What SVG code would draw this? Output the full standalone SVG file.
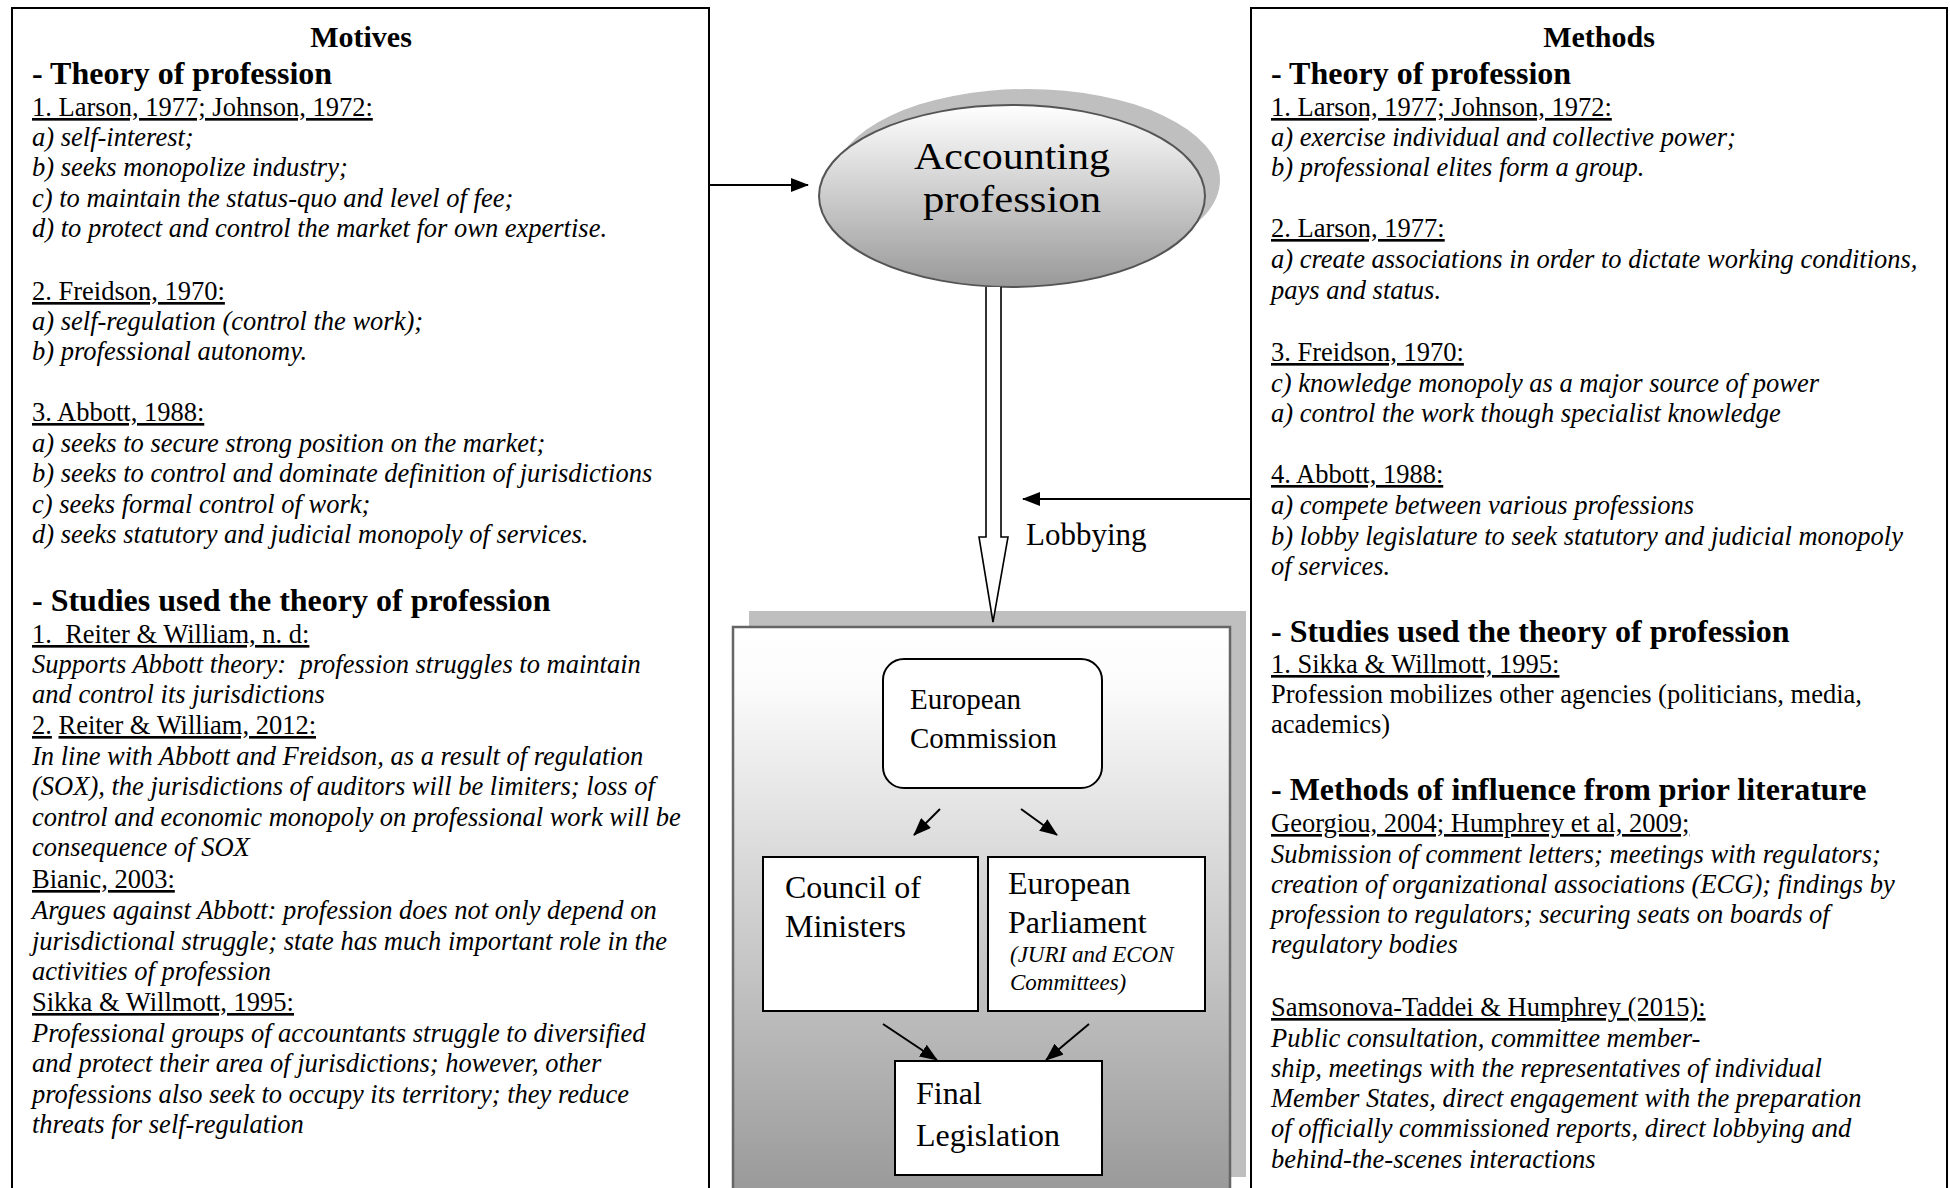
<svg xmlns="http://www.w3.org/2000/svg" width="1950" height="1188" viewBox="0 0 1950 1188">
<style>
text { font-family: "Liberation Serif", "Times New Roman", serif; font-size: 26.5px; fill: #000; white-space: pre; }
.i { font-style: italic; }
.u { text-decoration: underline; }
.h { font-weight: bold; font-size: 32px; }
.t { font-weight: bold; font-size: 30px; text-anchor: middle; }
.n { font-size: 32px; }
.box { fill: #fff; stroke: #000; stroke-width: 2; }
.ln { stroke: #000; stroke-width: 2; fill: none; }
</style>
<defs>
<marker id="ah" markerUnits="userSpaceOnUse" markerWidth="18" markerHeight="14" refX="17" refY="7" orient="auto">
<path d="M0,0 L18,7 L0,14 z" fill="#000"/>
</marker>
<linearGradient id="eg" x1="0" y1="0" x2="0" y2="1">
<stop offset="0" stop-color="#ffffff"/>
<stop offset="1" stop-color="#999999"/>
</linearGradient>
<linearGradient id="pg" gradientUnits="userSpaceOnUse" x1="0" y1="630" x2="0" y2="1190">
<stop offset="0" stop-color="#ffffff"/>
<stop offset="0.1" stop-color="#fbfbfb"/>
<stop offset="1" stop-color="#9a9a9a"/>
</linearGradient>
</defs>

<g id="motives">
<rect class="box" x="12" y="8" width="697" height="1200"/>
<text class="t" x="361" y="47">Motives</text>
<text class="h" x="32" y="84">- Theory of profession</text>
<text class="u" x="32" y="116">1. Larson, 1977; Johnson, 1972:</text>
<text class="i" x="32" y="146">a) self-interest;</text>
<text class="i" x="32" y="176">b) seeks monopolize industry;</text>
<text class="i" x="32" y="207">c) to maintain the status-quo and level of fee;</text>
<text class="i" x="32" y="237">d) to protect and control the market for own expertise.</text>
<text class="u" x="32" y="300">2. Freidson, 1970:</text>
<text class="i" x="32" y="330">a) self-regulation (control the work);</text>
<text class="i" x="32" y="360">b) professional autonomy.</text>
<text class="u" x="32" y="421">3. Abbott, 1988:</text>
<text class="i" x="32" y="452">a) seeks to secure strong position on the market;</text>
<text class="i" x="32" y="482">b) seeks to control and dominate definition of jurisdictions</text>
<text class="i" x="32" y="513">c) seeks formal control of work;</text>
<text class="i" x="32" y="543">d) seeks statutory and judicial monopoly of services.</text>
<text class="h" x="32" y="611">- Studies used the theory of profession</text>
<text class="u" x="32" y="643">1.  Reiter &amp; William, n. d:</text>
<text class="i" x="32" y="673">Supports Abbott theory:  profession struggles to maintain</text>
<text class="i" x="32" y="703">and control its jurisdictions</text>
<text x="32" y="734"><tspan class="u">2.</tspan> <tspan class="u">Reiter &amp; William, 2012:</tspan></text>
<text class="i" x="32" y="765">In line with Abbott and Freidson, as a result of regulation</text>
<text class="i" x="32" y="795">(SOX), the jurisdictions of auditors will be limiters; loss of</text>
<text class="i" x="32" y="826">control and economic monopoly on professional work will be</text>
<text class="i" x="32" y="856">consequence of SOX</text>
<text class="u" x="32" y="888">Bianic, 2003:</text>
<text class="i" x="32" y="919">Argues against Abbott: profession does not only depend on</text>
<text class="i" x="32" y="950">jurisdictional struggle; state has much important role in the</text>
<text class="i" x="32" y="980">activities of profession</text>
<text class="u" x="32" y="1011">Sikka &amp; Willmott, 1995:</text>
<text class="i" x="32" y="1042">Professional groups of accountants struggle to diversified</text>
<text class="i" x="32" y="1072">and protect their area of jurisdictions; however, other</text>
<text class="i" x="32" y="1103">professions also seek to occupy its territory; they reduce</text>
<text class="i" x="32" y="1133">threats for self-regulation</text>
</g>

<g id="methods">
<rect class="box" x="1251" y="8" width="696" height="1200"/>
<text class="t" x="1599" y="47">Methods</text>
<text class="h" x="1271" y="84">- Theory of profession</text>
<text class="u" x="1271" y="116">1. Larson, 1977; Johnson, 1972:</text>
<text class="i" x="1271" y="146">a) exercise individual and collective power;</text>
<text class="i" x="1271" y="176">b) professional elites form a group.</text>
<text class="u" x="1271" y="237">2. Larson, 1977:</text>
<text class="i" x="1271" y="268">a) create associations in order to dictate working conditions,</text>
<text class="i" x="1271" y="299">pays and status.</text>
<text class="u" x="1271" y="361">3. Freidson, 1970:</text>
<text class="i" x="1271" y="392">c) knowledge monopoly as a major source of power</text>
<text class="i" x="1271" y="422">a) control the work though specialist knowledge</text>
<text class="u" x="1271" y="483">4. Abbott, 1988:</text>
<text class="i" x="1271" y="514">a) compete between various professions</text>
<text class="i" x="1271" y="545">b) lobby legislature to seek statutory and judicial monopoly</text>
<text class="i" x="1271" y="575">of services.</text>
<text class="h" x="1271" y="642">- Studies used the theory of profession</text>
<text class="u" x="1271" y="673">1. Sikka &amp; Willmott, 1995:</text>
<text x="1271" y="703">Profession mobilizes other agencies (politicians, media,</text>
<text x="1271" y="733">academics)</text>
<text class="h" x="1271" y="800">- Methods of influence from prior literature</text>
<text class="u" x="1271" y="832">Georgiou, 2004; Humphrey et al, 2009;</text>
<text class="i" x="1271" y="863">Submission of comment letters; meetings with regulators;</text>
<text class="i" x="1271" y="893">creation of organizational associations (ECG); findings by</text>
<text class="i" x="1271" y="923">profession to regulators; securing seats on boards of</text>
<text class="i" x="1271" y="953">regulatory bodies</text>
<text class="u" x="1271" y="1016">Samsonova-Taddei &amp; Humphrey (2015):</text>
<text class="i" x="1271" y="1047">Public consultation, committee member-</text>
<text class="i" x="1271" y="1077">ship, meetings with the representatives of individual</text>
<text class="i" x="1271" y="1107">Member States, direct engagement with the preparation</text>
<text class="i" x="1271" y="1137">of officially commissioned reports, direct lobbying and</text>
<text class="i" x="1271" y="1168">behind-the-scenes interactions</text>
</g>

<g id="accounting-profession">
<ellipse cx="1027" cy="180" rx="193" ry="91" fill="#bfbfbf"/>
<ellipse cx="1012" cy="196" rx="193" ry="91" fill="url(#eg)" stroke="#555" stroke-width="2"/>
<text x="1012" y="169" text-anchor="middle" textLength="196" lengthAdjust="spacingAndGlyphs" style="font-size:38px">Accounting</text>
<text x="1012" y="212" text-anchor="middle" textLength="178" lengthAdjust="spacingAndGlyphs" style="font-size:38px">profession</text>
</g>

<g id="eu-panel">
<rect x="749" y="611" width="497" height="566" fill="#bfbfbf"/>
<rect x="733" y="627" width="497" height="570" fill="url(#pg)" stroke="#666" stroke-width="2.5"/>
</g>

<g id="european-commission">
<rect class="box" x="883" y="659" width="219" height="129" rx="21" ry="21"/>
<text x="910" y="709" style="font-size:29px">European</text>
<text x="910" y="748" style="font-size:29px">Commission</text>
</g>

<g id="council">
<rect class="box" x="763" y="857" width="215" height="154"/>
<text class="n" x="785" y="898">Council of</text>
<text class="n" x="785" y="937">Ministers</text>
</g>

<g id="parliament">
<rect class="box" x="988" y="857" width="217" height="154"/>
<text class="n" x="1008" y="894">European</text>
<text class="n" x="1008" y="933">Parliament</text>
<text class="i" x="1010" y="962" style="font-size:23px">(JURI and ECON</text>
<text class="i" x="1010" y="990" style="font-size:23px">Committees)</text>
</g>

<g id="final-legislation">
<rect class="box" x="895" y="1061" width="207" height="114"/>
<text class="n" x="916" y="1104">Final</text>
<text class="n" x="916" y="1146">Legislation</text>
</g>

<g id="lobbying-label">
<text x="1026" y="545" style="font-size:31px">Lobbying</text>
</g>

<g id="connectors">
<line class="ln" x1="709" y1="185" x2="808" y2="185" marker-end="url(#ah)"/>
<line class="ln" x1="1251" y1="499" x2="1023" y2="499" marker-end="url(#ah)"/>
<path d="M986,287 L986,537 L979,537 L993,622 L1008,537 L1001,537 L1001,287" fill="#fff" stroke="#000" stroke-width="1.6"/>
<line class="ln" x1="940" y1="809" x2="914" y2="835" stroke-width="2.5" marker-end="url(#ah)"/>
<line class="ln" x1="1021" y1="809" x2="1057" y2="835" stroke-width="2.5" marker-end="url(#ah)"/>
<line class="ln" x1="883" y1="1024" x2="937" y2="1060" stroke-width="2.5" marker-end="url(#ah)"/>
<line class="ln" x1="1089" y1="1024" x2="1046" y2="1060" stroke-width="2.5" marker-end="url(#ah)"/>
</g>
</svg>
